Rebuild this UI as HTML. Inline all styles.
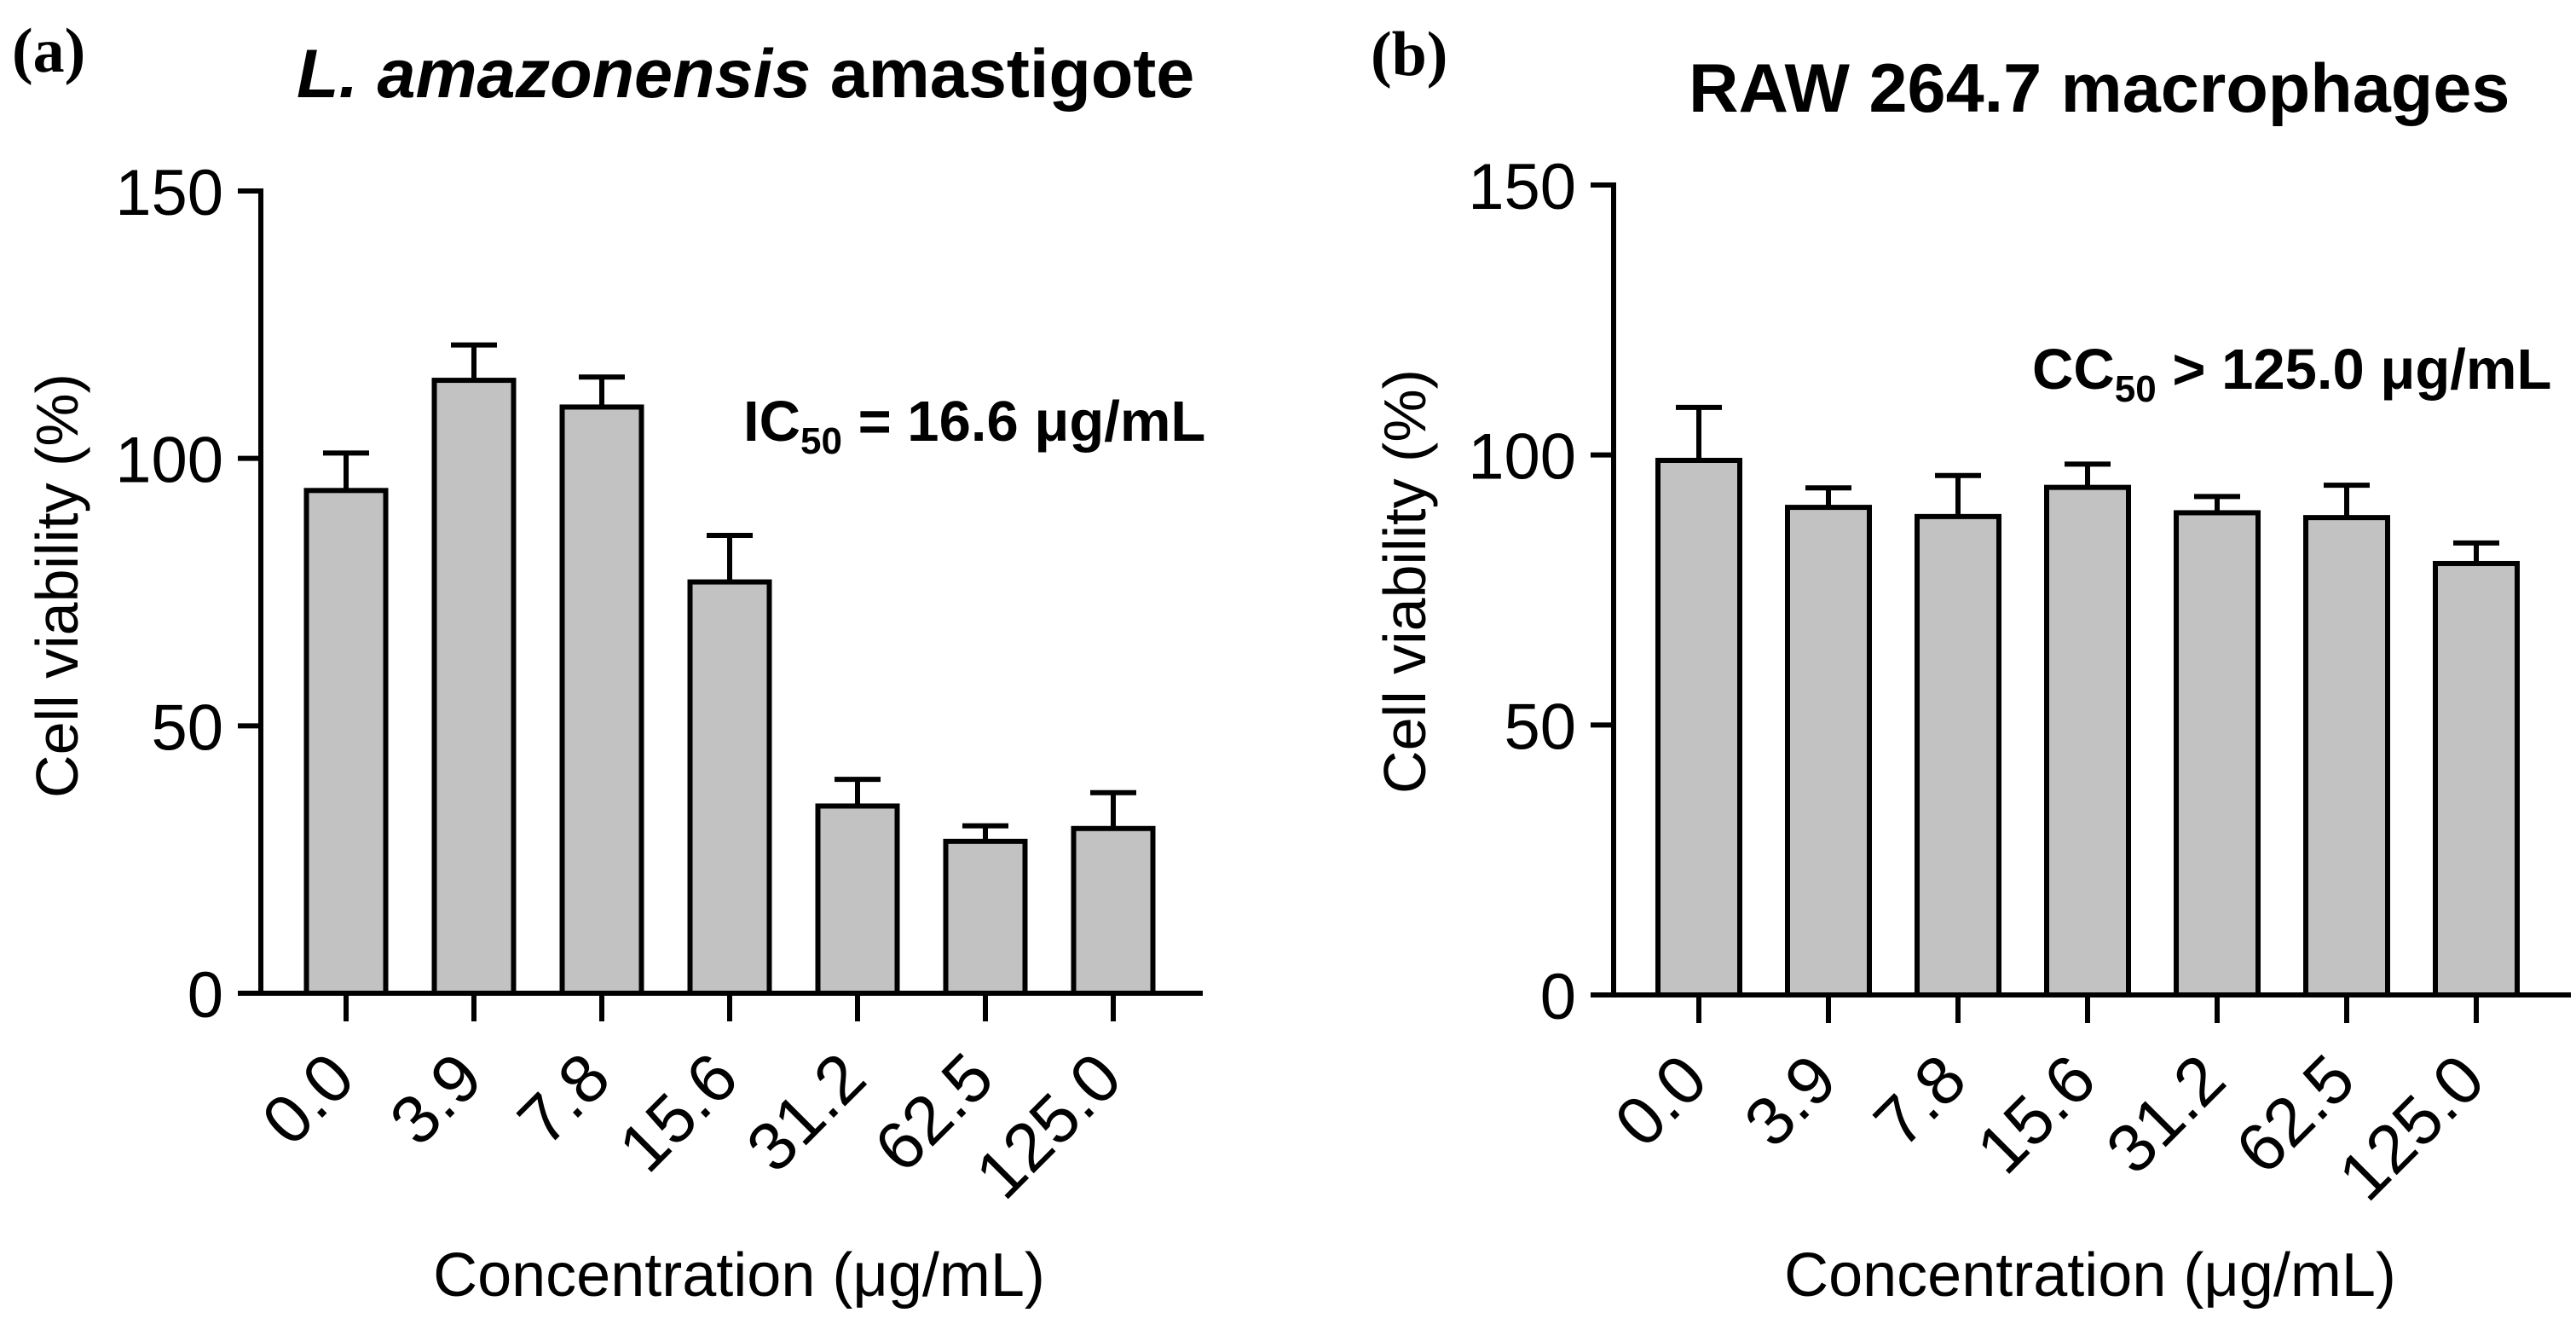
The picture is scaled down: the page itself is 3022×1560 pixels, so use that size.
<!DOCTYPE html>
<html><head><meta charset="utf-8"><style>
html,body{margin:0;padding:0;background:#fff;}
svg{display:block;}
text{font-family:"Liberation Sans",Arial,sans-serif;fill:#000;}
</style></head><body>
<svg id="chart" width="3022" height="1560" viewBox="0 0 3022 1560" xmlns="http://www.w3.org/2000/svg">
<text x="14" y="84" style="font-family:'Liberation Serif',serif;font-size:74px;font-weight:bold">(a)</text>
<text x="348" y="114" style="font-size:81px;font-weight:bold"><tspan font-style="italic">L. amazonensis</tspan> amastigote</text>
<text x="872" y="517" style="font-size:67px;font-weight:bold">IC<tspan font-size="44" dy="15">50</tspan><tspan dy="-15"> = 16.6 μg/mL</tspan></text>
<text x="1608" y="88" style="font-family:'Liberation Serif',serif;font-size:74px;font-weight:bold">(b)</text>
<text x="1981" y="131" style="font-size:81px;font-weight:bold">RAW 264.7 macrophages</text>
<text x="2384" y="456" style="font-size:67px;font-weight:bold">CC<tspan font-size="44" dy="15">50</tspan><tspan dy="-15"> &gt; 125.0 μg/mL</tspan></text>
<g id="panelA"></g>
<g id="panelB"></g>
</svg>
<script>
const categories = ["0.0","3.9","7.8","15.6","31.2","62.5","125.0"];
const yTicks = [0,50,100,150];
const amastigoteMean = [94,114.6,109.6,76.9,35,28.4,30.8];
const amastigoteErr = [7,6.6,5.6,8.7,5,2.9,6.7];
const macrophageMean = [99,90.3,88.6,94,89.3,88.4,79.9];
const macrophageErr = [9.8,3.6,7.6,4.3,3,6,3.8];

const NS = "http://www.w3.org/2000/svg";
function mk(parent, tag, attrs){const e=document.createElementNS(NS,tag);for(const k in attrs)e.setAttribute(k,attrs[k]);parent.appendChild(e);return e;}

function drawPanel(g, cfg, means, errs){
  const y = v => cfg.y0 - (v/150)*(cfg.y0-cfg.y150);
  const x = i => cfg.c0 + i*cfg.step;
  means.forEach((m,i)=>{
    const cx=x(i), top=y(m), et=y(m+errs[i]);
    const eb = mk(g,'line',{x1:cx,y1:top,x2:cx,y2:et,stroke:'#000','stroke-width':6});
    
    
    const cap = mk(g,'line',{x1:cx-27,y1:et,x2:cx+27,y2:et,stroke:'#000','stroke-width':6});
    
    
    const r = mk(g,'rect',{x:cx-cfg.bw/2,y:top,width:cfg.bw,height:cfg.y0-top,fill:'#c2c2c2',stroke:'#000','stroke-width':6});
    
    
    const t = mk(g,'line',{x1:cx,y1:cfg.y0,x2:cx,y2:cfg.y0+33,stroke:'#000','stroke-width':6});
    
    
    const lx=cx+14, ly=cfg.y0+104;
    const lab = mk(g,'text',{x:lx,y:ly,'text-anchor':'end','font-size':80,transform:`rotate(-45 ${lx} ${ly})`});
    lab.textContent=categories[i];
    
    
  });
  const ya = mk(g,'line',{x1:cfg.ax,y1:cfg.y150-3,x2:cfg.ax,y2:cfg.y0,stroke:'#000','stroke-width':6});
  
  
  const xa = mk(g,'line',{x1:cfg.ax-27,y1:cfg.y0,x2:cfg.xend,y2:cfg.y0,stroke:'#000','stroke-width':6});
  
  
  yTicks.forEach(v=>{
    const tk = mk(g,'line',{x1:cfg.ax-27,y1:y(v),x2:cfg.ax,y2:y(v),stroke:'#000','stroke-width':6});
    
    
    const tl = mk(g,'text',{x:cfg.ax-44,y:y(v)+28,'text-anchor':'end','font-size':76});
    tl.textContent=v;
    
    
  });
  const yt = mk(g,'text',{x:cfg.ytx,y:cfg.yty,'text-anchor':'middle','font-size':70,transform:`rotate(-90 ${cfg.ytx} ${cfg.yty})`});
  yt.textContent='Cell viability (%)';
  
  
  const xt = mk(g,'text',{x:cfg.xtx,y:1520,'text-anchor':'middle','font-size':72});
  xt.textContent='Concentration (μg/mL)';
  
  
}
drawPanel(document.getElementById('panelA'),{ax:306,y0:1165,y150:224,c0:406,step:150,bw:93,xend:1411,ytx:91,yty:687,xtx:867},amastigoteMean,amastigoteErr);
drawPanel(document.getElementById('panelB'),{ax:1893,y0:1167,y150:217,c0:1993,step:152,bw:96,xend:3016,ytx:1672,yty:682,xtx:2452},macrophageMean,macrophageErr);
</script>
</body></html>
